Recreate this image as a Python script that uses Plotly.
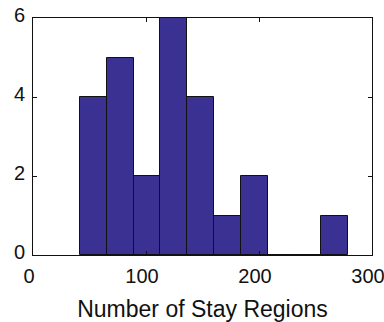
import numpy as np
import plotly.graph_objects as go

# Histogram of stay-region counts: 10 equal-width bins
bin_edges = [41.7, 65.4, 89.1, 112.8, 136.5, 160.2, 183.9, 207.6, 231.3, 255.0, 278.7]
counts = [4, 5, 2, 6, 4, 1, 2, 0, 0, 1]

x_ticks = [0, 100, 200, 300]
y_ticks = [0, 2, 4, 6]

edges = np.array(bin_edges)
centers = (edges[:-1] + edges[1:]) / 2
widths = np.diff(edges)

fig = go.Figure(
    go.Bar(
        x=centers,
        y=counts,
        width=widths,
        marker=dict(color="#3a3192", line=dict(color="#111111", width=1)),
    )
)

axis_common = dict(
    showline=True,
    linecolor="#111111",
    linewidth=1,
    mirror="ticks",
    ticks="inside",
    ticklen=4,
    tickcolor="#111111",
    showgrid=False,
    zeroline=False,
    automargin=False,
    ticklabeloverflow="allow",
    tickfont=dict(family="Liberation Sans, Arial, sans-serif", size=20, color="#111111"),
)

fig.update_layout(
    width=384,
    height=322,
    margin=dict(l=33, r=12, t=18, b=67),
    paper_bgcolor="white",
    plot_bgcolor="white",
    showlegend=False,
    bargap=0,
    xaxis=dict(
        range=[0, 300],
        tickvals=x_ticks,
        ticklabelstandoff=3,
        ticklabelshift=-4,
        title=dict(
            text="Number of Stay Regions",
            font=dict(family="Liberation Sans, Arial, sans-serif", size=23, color="#111111"),
            standoff=17,
        ),
        **axis_common,
    ),
    yaxis=dict(
        range=[0, 6],
        tickvals=y_ticks,
        ticklabelstandoff=3,
        ticklabelshift=-3,
        **axis_common,
    ),
)

fig.write_html("out.html")
